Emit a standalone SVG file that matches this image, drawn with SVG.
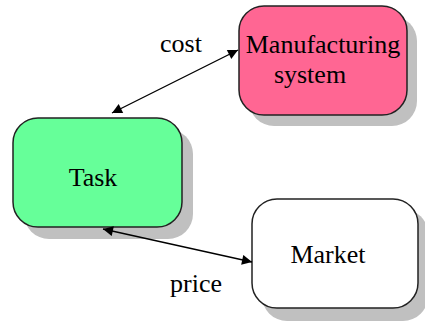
<svg xmlns="http://www.w3.org/2000/svg" width="425" height="322" viewBox="0 0 425 322">
<defs>
<style>
.shadow{fill:#c0c0c0;stroke:none}
.box{stroke:#222;stroke-width:1.5}
.lbl{font-family:"Liberation Serif","Times New Roman",serif;font-size:26px;fill:#000}
.edge{stroke:#000;stroke-width:1.3;fill:none}
</style>
<marker id="ah" viewBox="0 0 10 10" refX="10" refY="5" markerWidth="14" markerHeight="10" markerUnits="userSpaceOnUse" orient="auto-start-reverse">
<path d="M0,0 L10,5 L0,10 z" fill="#000"/>
</marker>
</defs>
<rect width="425" height="322" fill="#fff"/>
<g id="manufacturing">
<rect class="shadow" x="249" y="16" width="168" height="110" rx="25"/>
<rect class="box" x="239" y="6" width="168" height="109" rx="25" fill="#ff6693"/>
<text class="lbl" x="323" y="53" text-anchor="middle">Manufacturing</text>
<text class="lbl" x="310" y="83" text-anchor="middle">system</text>
</g>
<g id="task">
<rect class="shadow" x="24" y="129" width="169" height="110" rx="25"/>
<rect class="box" x="13" y="118" width="169" height="109" rx="25" fill="#66ff99"/>
<text class="lbl" x="93" y="186" text-anchor="middle">Task</text>
</g>
<g id="market">
<rect class="shadow" x="262" y="209" width="166" height="112" rx="25"/>
<rect class="box" x="252" y="199" width="166" height="109" rx="25" fill="#fff" stroke="#402028"/>
<text class="lbl" x="328" y="263" text-anchor="middle">Market</text>
</g>
<g id="connectors">
<line class="edge" x1="112" y1="113" x2="238" y2="50" marker-start="url(#ah)" marker-end="url(#ah)"/>
<line class="edge" x1="103" y1="229" x2="252" y2="262" marker-start="url(#ah)" marker-end="url(#ah)"/>
<text class="lbl" x="160" y="52">cost</text>
<text class="lbl" x="170" y="292">price</text>
</g>
</svg>
